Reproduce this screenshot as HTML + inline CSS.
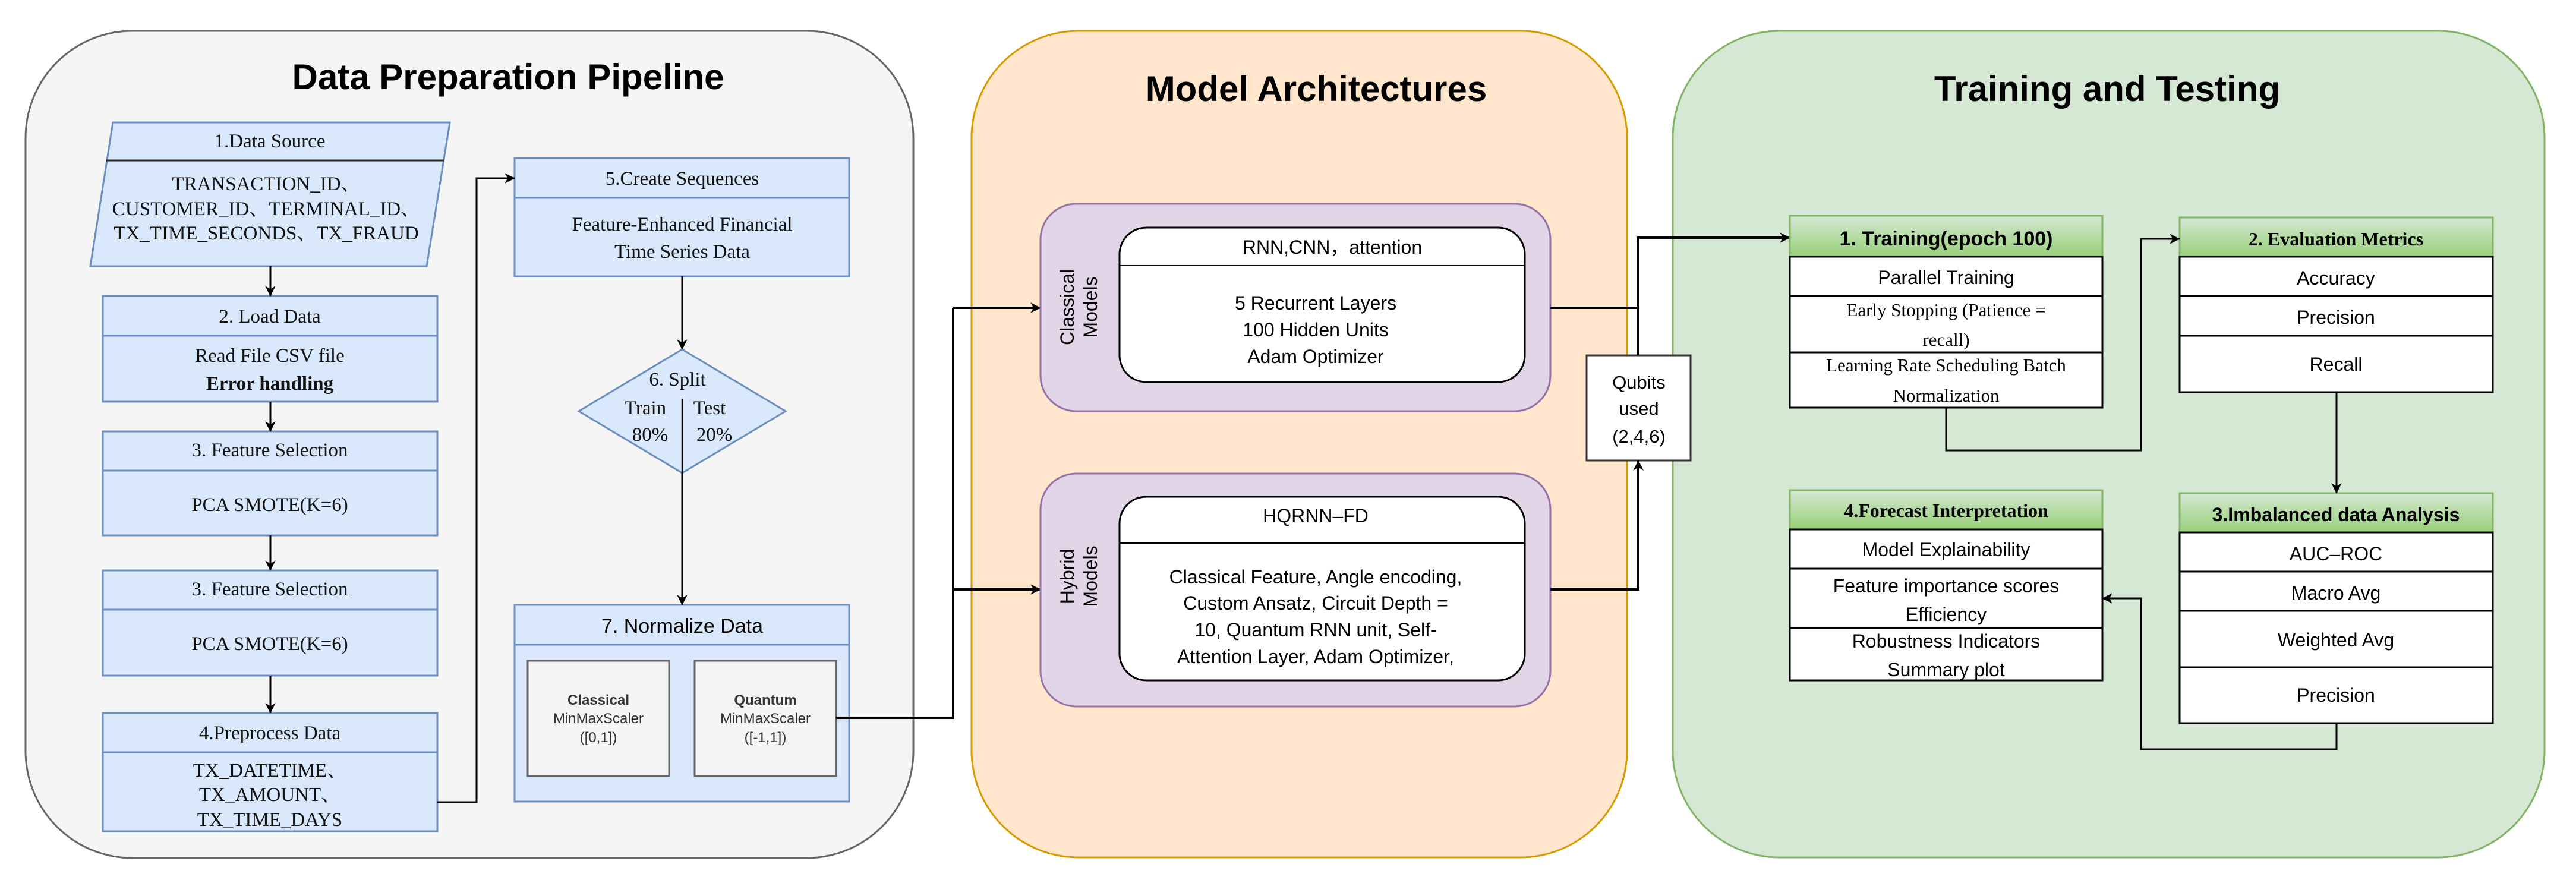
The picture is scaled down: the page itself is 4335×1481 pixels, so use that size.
<!DOCTYPE html>
<html><head><meta charset="utf-8"><style>
html,body{margin:0;padding:0;background:#fff;}
svg{display:block;}
.s{font-family:"Liberation Sans","Noto Sans CJK SC",sans-serif;}
.r{font-family:"Liberation Serif","Noto Serif CJK SC","Noto Sans CJK SC",serif;}
</style></head><body>
<svg width="4335" height="1481" viewBox="0 0 4335 1481" xmlns="http://www.w3.org/2000/svg">
<defs>
<marker id="a" viewBox="0 0 10 10" refX="9" refY="5" markerWidth="8" markerHeight="8" markerUnits="userSpaceOnUse" orient="auto" style="overflow:visible">
<path d="M0,0 L10,5 L0,10 L3,5 Z" fill="#000" transform="scale(2.2) translate(-5.5,-2.7)"/>
</marker>
<linearGradient id="g" x1="0" y1="0" x2="0" y2="1"><stop offset="0" stop-color="#d5e8d4"/><stop offset="1" stop-color="#97d077"/></linearGradient>
</defs>

<rect x="43" y="52" width="1494" height="1392" rx="180" fill="#f5f5f5" stroke="#666" stroke-width="3"/>
<rect x="1635" y="52" width="1103" height="1391" rx="180" fill="#ffe6cc" stroke="#d79b00" stroke-width="3"/>
<rect x="2815" y="52" width="1467" height="1391" rx="180" fill="#d5e8d4" stroke="#82b366" stroke-width="3"/>

<text class="s" x="855" y="150" font-size="60" font-weight="bold" text-anchor="middle">Data Preparation Pipeline</text>
<text class="s" x="2215" y="170" font-size="60" font-weight="bold" text-anchor="middle">Model Architectures</text>
<text class="s" x="3546" y="170" font-size="60" font-weight="bold" text-anchor="middle">Training and Testing</text>

<g fill="#dae8fc" stroke="#6c8ebf" stroke-width="3">
<polygon points="190,206 757,206 718,448 152,448"/>
<rect x="173" y="498" width="563" height="178"/>
<rect x="173" y="726" width="563" height="175"/>
<rect x="173" y="960" width="563" height="177"/>
<rect x="173" y="1200" width="563" height="199"/>
<rect x="866" y="266" width="563" height="199"/>
<polygon points="1148,588 1322,692 1148,796 974,692"/>
<rect x="866" y="1018" width="563" height="331"/>
</g>
<g stroke="#6c8ebf" stroke-width="3">
<line x1="179" y1="270" x2="747" y2="270" stroke="#222"/>
<line x1="173" y1="565" x2="736" y2="565"/>
<line x1="173" y1="792" x2="736" y2="792"/>
<line x1="173" y1="1026" x2="736" y2="1026"/>
<line x1="173" y1="1266" x2="736" y2="1266"/>
<line x1="866" y1="333" x2="1429" y2="333"/>
<line x1="866" y1="1085" x2="1429" y2="1085"/>
</g>
<g class="r" font-size="33" text-anchor="middle" fill="#111">
<text x="454" y="248">1.Data Source</text>
<text x="448" y="320">TRANSACTION_ID、</text>
<text x="448" y="362">CUSTOMER_ID、TERMINAL_ID、</text>
<text x="448" y="403">TX_TIME_SECONDS、TX_FRAUD</text>
<text x="454" y="543">2. Load Data</text>
<text x="454" y="609">Read File CSV file</text>
<text x="454" y="656" font-weight="bold">Error handling</text>
<text x="454" y="768">3. Feature Selection</text>
<text x="454" y="860">PCA SMOTE(K=6)</text>
<text x="454" y="1002">3. Feature Selection</text>
<text x="454" y="1094">PCA SMOTE(K=6)</text>
<text x="454" y="1244">4.Preprocess Data</text>
<text x="454" y="1307">TX_DATETIME、</text>
<text x="454" y="1348">TX_AMOUNT、</text>
<text x="454" y="1390">TX_TIME_DAYS</text>
<text x="1148" y="311">5.Create Sequences</text>
<text x="1148" y="388">Feature-Enhanced Financial</text>
<text x="1148" y="434">Time Series Data</text>
<text x="1140" y="649">6. Split</text>
<text x="1086" y="697">Train</text>
<text x="1194" y="697">Test</text>
<text x="1094" y="742">80%</text>
<text x="1202" y="742">20%</text>
</g>
<line x1="1148" y1="671" x2="1148" y2="796" stroke="#000" stroke-width="2.5"/>
<text class="s" x="1148" y="1065" font-size="34" text-anchor="middle">7. Normalize Data</text>
<g fill="#f5f5f5" stroke="#666" stroke-width="3">
<rect x="888" y="1112" width="238" height="194"/>
<rect x="1169" y="1112" width="238" height="194"/>
</g>
<g class="s" font-size="24" text-anchor="middle" fill="#333">
<text x="1007" y="1186" font-weight="bold">Classical</text>
<text x="1007" y="1217">MinMaxScaler</text>
<text x="1007" y="1249">([0,1])</text>
<text x="1288" y="1186" font-weight="bold">Quantum</text>
<text x="1288" y="1217">MinMaxScaler</text>
<text x="1288" y="1249">([-1,1])</text>
</g>

<g stroke="#000" stroke-width="3" fill="none" marker-end="url(#a)">
<line x1="455" y1="448" x2="455" y2="498"/>
<line x1="455" y1="676" x2="455" y2="726"/>
<line x1="455" y1="901" x2="455" y2="960"/>
<line x1="455" y1="1137" x2="455" y2="1200"/>
<polyline points="736,1350 802,1350 802,300 866,300"/>
<line x1="1148" y1="465" x2="1148" y2="588"/>
<line x1="1148" y1="796" x2="1148" y2="1018"/>
</g>
<g stroke="#000" stroke-width="4" fill="none">
<polyline points="1407,1208 1604,1208 1604,518"/>
<line x1="1604" y1="518" x2="1751" y2="518" marker-end="url(#a)"/>
<line x1="1604" y1="992" x2="1751" y2="992" marker-end="url(#a)"/>
</g>

<g fill="#e1d5e7" stroke="#9673a6" stroke-width="3">
<rect x="1751" y="343" width="858" height="349" rx="60"/>
<rect x="1751" y="797" width="858" height="392" rx="60"/>
</g>
<g fill="#fff" stroke="#000" stroke-width="3">
<rect x="1884" y="383" width="682" height="260" rx="45"/>
<rect x="1884" y="836" width="682" height="309" rx="45"/>
</g>
<line x1="1884" y1="447" x2="2566" y2="447" stroke="#000" stroke-width="2"/>
<line x1="1884" y1="914" x2="2566" y2="914" stroke="#000" stroke-width="2"/>
<g class="s" font-size="32" text-anchor="middle" fill="#000">
<text x="2242" y="427">RNN,CNN，attention</text>
<text x="2214" y="521">5 Recurrent Layers</text>
<text x="2214" y="566">100 Hidden Units</text>
<text x="2214" y="611">Adam Optimizer</text>
<text x="2214" y="879">HQRNN–FD</text>
<text x="2214" y="982">Classical Feature, Angle encoding,</text>
<text x="2214" y="1026">Custom Ansatz,  Circuit Depth =</text>
<text x="2214" y="1071">10,  Quantum RNN unit,  Self-</text>
<text x="2214" y="1116">Attention Layer,  Adam Optimizer,</text>
</g>
<g class="s" font-size="32" text-anchor="middle" fill="#000">
<text transform="translate(1807,517) rotate(-90)">Classical</text>
<text transform="translate(1846,517) rotate(-90)">Models</text>
<text transform="translate(1807,970) rotate(-90)">Hybrid</text>
<text transform="translate(1846,970) rotate(-90)">Models</text>
</g>

<rect x="2670" y="598" width="175" height="177" fill="#fff" stroke="#333" stroke-width="3"/>
<g class="s" font-size="31" text-anchor="middle">
<text x="2758" y="654">Qubits</text>
<text x="2758" y="698">used</text>
<text x="2758" y="745">(2,4,6)</text>
</g>
<g stroke="#000" stroke-width="4" fill="none">
<polyline points="2609,518 2757,518"/>
<polyline points="2757,598 2757,400 3012,400" marker-end="url(#a)"/>
<polyline points="2609,992 2757,992 2757,775" marker-end="url(#a)"/>
</g>

<g stroke="#000" stroke-width="3">
<rect x="3012" y="363" width="526" height="69" fill="url(#g)" stroke="#82b366"/>
<rect x="3012" y="432" width="526" height="254" fill="#fff"/>
<line x1="3012" y1="498" x2="3538" y2="498"/><line x1="3012" y1="593" x2="3538" y2="593"/>
<rect x="3668" y="366" width="527" height="66" fill="url(#g)" stroke="#82b366"/>
<rect x="3668" y="432" width="527" height="228" fill="#fff"/>
<line x1="3668" y1="498" x2="4195" y2="498"/><line x1="3668" y1="565" x2="4195" y2="565"/>
<rect x="3668" y="830" width="527" height="66" fill="url(#g)" stroke="#82b366"/>
<rect x="3668" y="896" width="527" height="321" fill="#fff"/>
<line x1="3668" y1="962" x2="4195" y2="962"/><line x1="3668" y1="1028" x2="4195" y2="1028"/><line x1="3668" y1="1123" x2="4195" y2="1123"/>
<rect x="3012" y="825" width="526" height="66" fill="url(#g)" stroke="#82b366"/>
<rect x="3012" y="891" width="526" height="254" fill="#fff"/>
<line x1="3012" y1="957" x2="3538" y2="957"/><line x1="3012" y1="1057" x2="3538" y2="1057"/>
</g>
<g text-anchor="middle" fill="#000">
<text class="s" x="3275" y="413" font-size="34" font-weight="bold">1. Training(epoch 100)</text>
<text class="s" x="3275" y="478" font-size="32">Parallel Training</text>
<text class="r" x="3275" y="532" font-size="31">Early Stopping (Patience =</text>
<text class="r" x="3275" y="582" font-size="31">recall)</text>
<text class="r" x="3275" y="625" font-size="31">Learning Rate Scheduling Batch</text>
<text class="r" x="3275" y="676" font-size="31">Normalization</text>
<text class="r" x="3931" y="413" font-size="32" font-weight="bold">2. Evaluation Metrics</text>
<text class="s" x="3931" y="479" font-size="32">Accuracy</text>
<text class="s" x="3931" y="545" font-size="32">Precision</text>
<text class="s" x="3931" y="624" font-size="32">Recall</text>
<text class="s" x="3931" y="877" font-size="32" font-weight="bold">3.Imbalanced data Analysis</text>
<text class="s" x="3931" y="943" font-size="32">AUC–ROC</text>
<text class="s" x="3931" y="1009" font-size="32">Macro Avg</text>
<text class="s" x="3931" y="1088" font-size="32">Weighted Avg</text>
<text class="s" x="3931" y="1181" font-size="32">Precision</text>
<text class="r" x="3275" y="870" font-size="32" font-weight="bold">4.Forecast Interpretation</text>
<text class="s" x="3275" y="936" font-size="32">Model Explainability</text>
<text class="s" x="3275" y="997" font-size="32">Feature importance scores</text>
<text class="s" x="3275" y="1045" font-size="32">Efficiency</text>
<text class="s" x="3275" y="1090" font-size="32">Robustness Indicators</text>
<text class="s" x="3275" y="1138" font-size="32">Summary plot</text>
</g>
<g stroke="#000" stroke-width="3" fill="none" marker-end="url(#a)">
<polyline points="3275,686 3275,758 3603,758 3603,402 3668,402"/>
<line x1="3932" y1="660" x2="3932" y2="830"/>
<polyline points="3932,1217 3932,1261 3603,1261 3603,1007 3538,1007"/>
</g>
</svg>
</body></html>
